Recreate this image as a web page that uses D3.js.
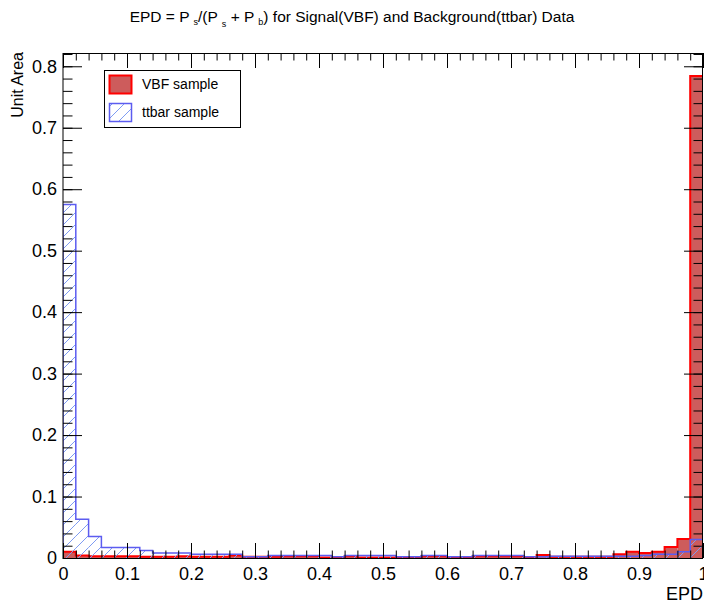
<!DOCTYPE html>
<html>
<head>
<meta charset="utf-8">
<script src="https://cdn.jsdelivr.net/npm/d3@7"></script>
<style>
  html, body { margin: 0; padding: 0; background: #fff; }
  svg { display: block; font-family: "Liberation Sans", Arial, Helvetica, sans-serif; }
</style>
</head>
<body>
<svg id="chart" width="704" height="604"></svg>
<script>
// ---- data (50 bins of width 0.02 on [0,1]) ----
const binLowEdges = d3.range(0, 50).map(i => i / 50);
const binWidth = 0.02;
const vbfValues = [
  0.010, 0.004, 0.003, 0.003, 0.003, 0.003, 0.002, 0.002, 0.002, 0.003,
  0.002, 0.002, 0.002, 0.004, 0.002, 0.002, 0.002, 0.003, 0.003, 0.003,
  0.001, 0.001, 0.003, 0.001, 0.001, 0.001, 0.001, 0.001, 0.003, 0.003,
  0.001, 0.001, 0.003, 0.003, 0.003, 0.003, 0.001, 0.005, 0.002, 0.002,
  0.002, 0.002, 0.002, 0.006, 0.010, 0.008, 0.010, 0.018, 0.031, 0.784
];
const ttbarValues = [
  0.575, 0.063, 0.035, 0.017, 0.017, 0.017, 0.012, 0.008, 0.008, 0.008,
  0.006, 0.006, 0.006, 0.006, 0.002, 0.002, 0.004, 0.004, 0.004, 0.004,
  0.004, 0.002, 0.004, 0.004, 0.004, 0.004, 0.002, 0.002, 0.004, 0.004,
  0.002, 0.002, 0.004, 0.004, 0.004, 0.004, 0.002, 0.002, 0.003, 0.003,
  0.003, 0.003, 0.003, 0.003, 0.003, 0.004, 0.006, 0.006, 0.010, 0.030
];
const xMajorTicks = [0, 0.1, 0.2, 0.3, 0.4, 0.5, 0.6, 0.7, 0.8, 0.9, 1];
const yMajorTicks = [0, 0.1, 0.2, 0.3, 0.4, 0.5, 0.6, 0.7, 0.8];
const xTickLabels = ["0", "0.1", "0.2", "0.3", "0.4", "0.5", "0.6", "0.7", "0.8", "0.9", "1"];
const yTickLabels = ["0", "0.1", "0.2", "0.3", "0.4", "0.5", "0.6", "0.7", "0.8"];
const legendLabels = ["VBF sample", "ttbar sample"];
const yMax = 0.8216;

// ---- layout ----
const L = 63, R = 703, T = 53, B = 558;
const svg = d3.select("#chart");
const x = d3.scaleLinear().domain([0, 1]).range([L, R]);
const y = d3.scaleLinear().domain([0, yMax]).range([B, T]);

const defs = svg.append("defs");
const pat = defs.append("pattern")
  .attr("id", "hatch").attr("patternUnits", "userSpaceOnUse")
  .attr("width", 12).attr("height", 12);
pat.append("path")
  .attr("d", "M0,12 L12,0 M-3,3 L3,-3 M9,15 L15,9")
  .attr("stroke", "#7f9cf2").attr("stroke-width", 1).attr("fill", "none");

defs.append("clipPath").attr("id", "plotclip")
  .append("rect").attr("x", L).attr("y", T).attr("width", R - L).attr("height", B - T);

const plot = svg.append("g").attr("clip-path", "url(#plotclip)");

function stepPath(values) {
  let d = `M${x(binLowEdges[0])},${y(0)}`;
  values.forEach((v, i) => {
    d += ` L${x(binLowEdges[i])},${y(v)} L${x(binLowEdges[i] + binWidth)},${y(v)}`;
  });
  d += ` L${x(binLowEdges[values.length - 1] + binWidth)},${y(0)}`;
  return d;
}

// VBF (red, filled)
plot.append("g").selectAll("rect").data(vbfValues).join("rect")
  .attr("x", (d, i) => x(binLowEdges[i]))
  .attr("width", (d, i) => x(binLowEdges[i] + binWidth) - x(binLowEdges[i]))
  .attr("y", d => y(d))
  .attr("height", d => y(0) - y(d))
  .attr("fill", "#cd5c5c");
plot.append("path").attr("d", stepPath(vbfValues))
  .attr("fill", "none").attr("stroke", "#ff0000").attr("stroke-width", 2);

// ttbar (blue, hatched)
plot.append("g").selectAll("rect").data(ttbarValues).join("rect")
  .attr("x", (d, i) => x(binLowEdges[i]))
  .attr("width", (d, i) => x(binLowEdges[i] + binWidth) - x(binLowEdges[i]))
  .attr("y", d => y(d))
  .attr("height", d => y(0) - y(d))
  .attr("fill", "url(#hatch)");
plot.append("path").attr("d", stepPath(ttbarValues))
  .attr("fill", "none").attr("stroke", "#5c5cf0").attr("stroke-width", 1.5);

// ---- axes (ROOT style, ticks inside, on all four sides) ----
const xMinor = d3.range(0, 51).map(i => i / 50);
const yMinor = d3.range(0, 42).map(i => i / 50).filter(v => v <= yMax);
const xMaj = 15, xMin = 7.5, yMaj = 19, yMin = 9.5;

function styleAxis(g) {
  g.select(".domain").remove();
  g.selectAll("line").attr("stroke", "#000").attr("stroke-width", 1);
  g.selectAll("text").attr("fill", "#000").attr("font-size", "18px")
    .attr("font-family", '"Liberation Sans", Arial, Helvetica, sans-serif');
}

svg.append("g").attr("transform", `translate(0,${B})`)
  .call(d3.axisBottom(x).tickValues(xMinor).tickSize(-xMin).tickFormat(""))
  .call(styleAxis);
svg.append("g").attr("transform", `translate(0,${B})`)
  .call(d3.axisBottom(x).tickValues(xMajorTicks).tickSize(-xMaj).tickPadding(9)
    .tickFormat((d, i) => xTickLabels[i]))
  .call(styleAxis);
svg.append("g").attr("transform", `translate(0,${T})`)
  .call(d3.axisTop(x).tickValues(xMinor).tickSize(-xMin).tickFormat(""))
  .call(styleAxis);
svg.append("g").attr("transform", `translate(0,${T})`)
  .call(d3.axisTop(x).tickValues(xMajorTicks).tickSize(-xMaj).tickFormat(""))
  .call(styleAxis);

svg.append("g").attr("transform", `translate(${L},0)`)
  .call(d3.axisLeft(y).tickValues(yMinor).tickSize(-yMin).tickFormat(""))
  .call(styleAxis);
svg.append("g").attr("transform", `translate(${L},0)`)
  .call(d3.axisLeft(y).tickValues(yMajorTicks).tickSize(-yMaj).tickPadding(6)
    .tickFormat((d, i) => yTickLabels[i]))
  .call(styleAxis);
svg.append("g").attr("transform", `translate(${R},0)`)
  .call(d3.axisRight(y).tickValues(yMinor).tickSize(-yMin).tickFormat(""))
  .call(styleAxis);
svg.append("g").attr("transform", `translate(${R},0)`)
  .call(d3.axisRight(y).tickValues(yMajorTicks).tickSize(-yMaj).tickFormat(""))
  .call(styleAxis);

// frame
svg.append("rect").attr("x", L).attr("y", T + 0.5).attr("width", R - L - 0.5).attr("height", B - T)
  .attr("fill", "none").attr("stroke", "#000").attr("stroke-width", 1);

// ---- axis titles ----
svg.append("text").attr("x", R).attr("y", 600).attr("text-anchor", "end")
  .attr("font-size", "18px").attr("fill", "#000").text("EPD");
svg.append("text").attr("transform", `translate(23,${T - 1}) rotate(-90)`)
  .attr("text-anchor", "end").attr("font-size", "16px").attr("fill", "#000").text("Unit Area");

// ---- title ----
const title = svg.append("text").attr("x", 352).attr("y", 22).attr("text-anchor", "middle")
  .attr("font-size", "15.5px").attr("fill", "#000");
title.append("tspan").text("EPD = P");
title.append("tspan").attr("dx", 4).attr("dy", 3).attr("font-size", "9px").text("s");
title.append("tspan").attr("dy", -3).text("/(P");
title.append("tspan").attr("dx", 4).attr("dy", 5).attr("font-size", "9px").text("s");
title.append("tspan").attr("dy", -5).text(" + P");
title.append("tspan").attr("dx", 4).attr("dy", 3).attr("font-size", "9px").text("b");
title.append("tspan").attr("dy", -3).text(") for Signal(VBF) and Background(ttbar) Data");

// ---- legend ----
const lg = svg.append("g");
lg.append("rect").attr("x", 104.5).attr("y", 70.5).attr("width", 136).attr("height", 57)
  .attr("fill", "#fff").attr("stroke", "#000").attr("stroke-width", 1);
lg.append("rect").attr("x", 109.5).attr("y", 75.5).attr("width", 22).attr("height", 18)
  .attr("fill", "#cd5c5c").attr("stroke", "#ff0000").attr("stroke-width", 2);
lg.append("rect").attr("x", 109.5).attr("y", 103.5).attr("width", 22).attr("height", 18)
  .attr("fill", "url(#hatch)").attr("stroke", "#5c5cf0").attr("stroke-width", 1.5);
lg.selectAll("text.lt").data(legendLabels).join("text").attr("class", "lt")
  .attr("x", 142).attr("y", (d, i) => 89 + i * 28)
  .attr("font-size", "14px").attr("fill", "#000").text(d => d);
</script>
</body>
</html>
